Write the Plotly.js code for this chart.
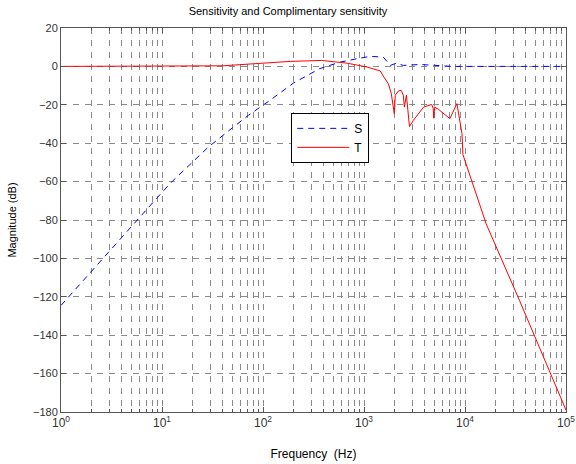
<!DOCTYPE html>
<html>
<head>
<meta charset="utf-8">
<script src="https://cdn.plot.ly/plotly-3.0.1.min.js"></script>
<style>html,body{margin:0;padding:0;background:#fff;}#chart{width:576px;height:464px;}</style>
</head>
<body>
<div id="chart"></div>
<script>
// Sensitivity S (Hz, dB)
const sFreq = [1, 2.17, 3, 5.2, 10, 12.9, 20, 28.8, 50, 71.6, 117, 200, 363, 575, 851, 1070, 1150, 1550, 1700, 1820, 2090, 2450, 3550, 5250, 7600, 100000];
const sMag  = [-124.5, -104.5, -96.4, -82, -65.6, -59.4, -49.9, -42, -31.9, -25.5, -17.7, -8.7, -1.2, 2.2, 4, 4.9, 5.2, 4.9, 2.5, 0.5, 1.7, 0.5, 1, 0.5, 0, 0];
// Complementary sensitivity T (Hz, dB)
const tFreq = [1, 20, 40, 59, 186, 380, 676, 1070, 1450, 1550, 1740, 1860, 1950, 1995, 2040, 2190, 2340, 2450, 2510, 2630, 2820, 3090, 3890, 4680, 4850, 4900, 5010, 5500, 7080, 8320, 9330, 9550, 16200, 34700, 100000];
const tMag  = [0, 0, 0.3, 0.9, 2.6, 3.1, 1.7, -0.3, -2.4, -5, -9, -14, -20, -24.6, -15, -12.8, -12.5, -15, -21.2, -15, -31.3, -28, -21.2, -19.8, -22, -27, -21.2, -22.5, -27.2, -19.4, -35, -46, -82, -122, -179];
const xTickVals = [1, 10, 100, 1000, 10000, 100000];
const xTickText = ['10<sup>0</sup>', '10<sup>1</sup>', '10<sup>2</sup>', '10<sup>3</sup>', '10<sup>4</sup>', '10<sup>5</sup>'];
const yTickVals = [-180, -160, -140, -120, -100, -80, -60, -40, -20, 0, 20];

const minorVals = [];
for (let d = 1; d < 100000; d *= 10) for (let k = 2; k <= 9; k++) minorVals.push(k * d);

const gridCol = '#8a8a8a';
const font = {family: 'Liberation Sans, Arial, sans-serif', size: 11, color: '#262626'};

const data = [
  {x: sFreq, y: sMag, name: 'S', type: 'scatter', mode: 'lines',
   line: {color: '#0000ff', width: 1, dash: '6px,5px'}},
  {x: tFreq, y: tMag, name: 'T', type: 'scatter', mode: 'lines',
   line: {color: '#ff0000', width: 1}}
];

const layout = {
  width: 576, height: 464,
  margin: {l: 61, r: 10, t: 28, b: 52},
  paper_bgcolor: '#ffffff', plot_bgcolor: '#ffffff',
  font: font,
  title: {text: 'Sensitivity and Complimentary sensitivity', x: 0.5, xanchor: 'center', y: 0.975, yanchor: 'middle', font: {size: 11, color: '#000'}},
  showlegend: true,
  legend: {x: 0.456, y: 0.779, xanchor: 'left', yanchor: 'top', bgcolor: '#ffffff', bordercolor: '#000000', borderwidth: 1, itemwidth: 52, font: {size: 12, color: '#000'}, tracegroupgap: 0},
  xaxis: {
    type: 'log', range: [0, 5],
    tickmode: 'array', tickvals: xTickVals, ticktext: xTickText,
    ticks: 'inside', ticklen: 5, tickcolor: '#555',
    showgrid: true, gridcolor: gridCol, griddash: '6px,6px', gridwidth: 1,
    minor: {tickmode: 'array', tickvals: minorVals, ticks: 'inside', ticklen: 3, tickcolor: '#555', showgrid: true, gridcolor: gridCol, griddash: '6px,6px', gridwidth: 1},
    showline: true, linecolor: '#555', linewidth: 1, mirror: 'ticks',
    zeroline: false,
    title: {text: 'Frequency  (Hz)', standoff: 20, font: {size: 12, color: '#000'}},
    tickfont: {size: 12, color: '#333'}
  },
  yaxis: {
    range: [-180, 20],
    tickmode: 'array', tickvals: yTickVals,
    ticks: 'inside', ticklen: 5, tickcolor: '#555',
    showgrid: true, gridcolor: gridCol, griddash: '6px,6px', gridwidth: 1,
    showline: true, linecolor: '#555', linewidth: 1, mirror: 'ticks',
    zeroline: false,
    title: {text: 'Magnitude (dB)', standoff: 14, font: {size: 11, color: '#000'}},
    tickfont: {size: 11, color: '#333'}
  }
};

Plotly.newPlot('chart', data, layout, {displayModeBar: false, staticPlot: true});
</script>
</body>
</html>
